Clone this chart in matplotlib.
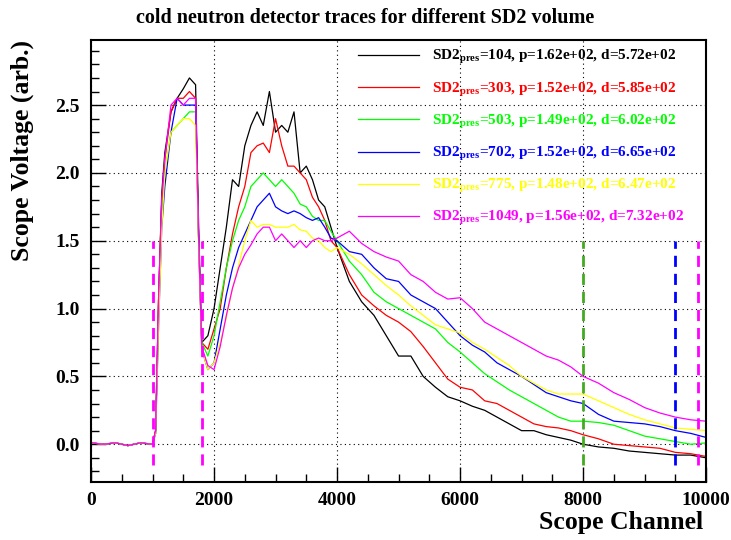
import numpy as np
import matplotlib
matplotlib.use('Agg')
import matplotlib.pyplot as plt
from matplotlib.ticker import MultipleLocator

plt.rcParams['font.family'] = ['Liberation Serif', 'DejaVu Serif']
plt.rcParams['font.weight'] = 'bold'
plt.rcParams['mathtext.fontset'] = 'custom'
plt.rcParams['mathtext.rm'] = 'Liberation Serif:bold'
plt.rcParams['mathtext.it'] = 'Liberation Serif:bold'
plt.rcParams['mathtext.bf'] = 'Liberation Serif:bold'

# channel grid the values were read at
channel = [0, 200, 400, 600, 800, 1000, 1050, 1100, 1150, 1200, 1300, 1400, 1500, 1600,
           1700, 1750, 1800, 1900, 2000, 2100, 2200, 2300, 2400, 2500, 2600, 2700, 2800,
           2900, 3000, 3100, 3200, 3300, 3400, 3500, 3600, 3700, 3800, 3900, 4000, 4200,
           4400, 4600, 4800, 5000, 5200, 5400, 5600, 5800, 6000, 6200, 6400, 6600, 6800,
           7000, 7200, 7400, 7600, 7800, 8000, 8250, 8500, 8750, 9000, 9250, 9500, 9750,
           10000]

base = [0.01, 0.0, 0.01, -0.01, 0.01, 0.0]

v_104 = base + [0.1, 1.1, 1.85, 2.15, 2.45, 2.55, 2.62, 2.7, 2.65, 1.6, 0.75, 0.8, 1.0,
                1.3, 1.6, 1.95, 1.9, 2.2, 2.35, 2.45, 2.35, 2.6, 2.3, 2.35, 2.3, 2.45, 2.0,
                2.05, 1.95, 1.8, 1.75, 1.6, 1.45, 1.2, 1.05, 0.95, 0.8, 0.65, 0.65, 0.5,
                0.42, 0.35, 0.32, 0.28, 0.25, 0.2, 0.15, 0.1, 0.1, 0.07, 0.05, 0.03, 0.0,
                -0.02, -0.03, -0.05, -0.06, -0.07, -0.08, -0.08, -0.1]
v_303 = base + [0.1, 1.1, 1.8, 2.1, 2.45, 2.55, 2.55, 2.6, 2.55, 1.5, 0.75, 0.7, 0.85,
                1.0, 1.3, 1.55, 1.75, 1.9, 2.15, 2.2, 2.22, 2.15, 2.4, 2.2, 2.05, 2.05, 2.0,
                1.95, 1.82, 1.75, 1.65, 1.5, 1.45, 1.25, 1.1, 1.02, 0.95, 0.9, 0.83, 0.72,
                0.6, 0.48, 0.42, 0.4, 0.32, 0.3, 0.25, 0.2, 0.15, 0.13, 0.12, 0.1, 0.07,
                0.04, 0.0, -0.01, -0.02, -0.03, -0.06, -0.07, -0.09]
v_503 = base + [0.08, 1.0, 1.7, 2.0, 2.3, 2.35, 2.4, 2.45, 2.45, 1.5, 0.75, 0.65, 0.8,
                1.05, 1.3, 1.5, 1.65, 1.75, 1.9, 1.95, 2.0, 1.95, 1.9, 1.95, 1.9, 1.85, 1.77,
                1.75, 1.68, 1.65, 1.65, 1.57, 1.5, 1.35, 1.25, 1.12, 1.05, 1.0, 0.95, 0.9,
                0.85, 0.75, 0.68, 0.6, 0.52, 0.46, 0.4, 0.35, 0.3, 0.25, 0.2, 0.17, 0.17,
                0.16, 0.14, 0.1, 0.06, 0.04, 0.02, 0.0, 0.01]
v_702 = base + [0.08, 0.9, 1.6, 1.9, 2.3, 2.55, 2.5, 2.5, 2.5, 1.5, 0.7, 0.55, 0.6,
                0.85, 1.1, 1.3, 1.45, 1.55, 1.65, 1.75, 1.8, 1.85, 1.75, 1.72, 1.7, 1.72, 1.7,
                1.67, 1.65, 1.67, 1.6, 1.52, 1.5, 1.42, 1.4, 1.3, 1.22, 1.2, 1.1, 1.05,
                1.0, 0.9, 0.8, 0.73, 0.68, 0.6, 0.55, 0.5, 0.44, 0.38, 0.35, 0.32, 0.3,
                0.22, 0.17, 0.16, 0.15, 0.13, 0.1, 0.08, 0.05]
v_775 = base + [0.08, 0.9, 1.6, 2.0, 2.3, 2.35, 2.4, 2.4, 2.35, 1.45, 0.7, 0.55, 0.6,
                0.75, 0.93, 1.15, 1.32, 1.5, 1.65, 1.6, 1.62, 1.62, 1.6, 1.6, 1.6, 1.62, 1.58,
                1.57, 1.52, 1.5, 1.45, 1.42, 1.45, 1.4, 1.33, 1.25, 1.17, 1.1, 1.02, 0.95,
                0.88, 0.85, 0.82, 0.75, 0.7, 0.64, 0.58, 0.5, 0.45, 0.4, 0.37, 0.37, 0.37,
                0.32, 0.27, 0.22, 0.18, 0.15, 0.12, 0.11, 0.1]
v_1049 = base + [0.1, 1.1, 1.8, 2.1, 2.5, 2.55, 2.5, 2.55, 2.55, 1.5, 0.72, 0.58, 0.55,
                 0.72, 0.95, 1.15, 1.3, 1.4, 1.47, 1.55, 1.6, 1.6, 1.5, 1.55, 1.5, 1.45, 1.5,
                 1.45, 1.5, 1.52, 1.5, 1.5, 1.52, 1.57, 1.48, 1.42, 1.38, 1.35, 1.25, 1.2,
                 1.12, 1.07, 1.08, 1.0, 0.9, 0.85, 0.8, 0.75, 0.7, 0.65, 0.62, 0.57, 0.5,
                 0.45, 0.38, 0.33, 0.27, 0.23, 0.2, 0.18, 0.17]

series = [v_104, v_303, v_503, v_702, v_775, v_1049]
colors = ['black', 'red', '#00ff00', 'blue', 'yellow', 'magenta']
labels = [r'SD2$_{\mathrm{pres}}$=104, p=1.62e+02, d=5.72e+02',
          r'SD2$_{\mathrm{pres}}$=303, p=1.52e+02, d=5.85e+02',
          r'SD2$_{\mathrm{pres}}$=503, p=1.49e+02, d=6.02e+02',
          r'SD2$_{\mathrm{pres}}$=702, p=1.52e+02, d=6.65e+02',
          r'SD2$_{\mathrm{pres}}$=775, p=1.48e+02, d=6.47e+02',
          r'SD2$_{\mathrm{pres}}$=1049, p=1.56e+02, d=7.32e+02']

# integration window markers
marker_x = [1000, 1800, 8000, 9500, 9870]
marker_col = ['magenta', 'magenta', '#44aa22', 'blue', 'magenta']
marker_lo, marker_hi = -0.15, 1.5

fig = plt.figure(figsize=(7.31, 5.40), dpi=100)
ax = fig.add_axes([0.1245, 0.107, 0.8415, 0.819])

for v, c, lab in zip(series, colors, labels):
    ax.plot(channel, v, color=c, lw=0.9, label=lab)

for mx, mc in zip(marker_x, marker_col):
    ax.plot([mx, mx], [marker_lo, marker_hi], color=mc, lw=2, ls=(0, (4, 2.5)))

ax.set_xlim(0, 10000)
ax.set_ylim(-0.28, 2.98)
ax.xaxis.set_major_locator(MultipleLocator(2000))
ax.xaxis.set_minor_locator(MultipleLocator(500))
ax.yaxis.set_major_locator(MultipleLocator(0.5))
ax.yaxis.set_minor_locator(MultipleLocator(0.1))
ax.yaxis.set_major_formatter(plt.FormatStrFormatter('%.1f'))
ax.tick_params(which='both', direction='in', top=False, right=False, labelsize=14, width=1)
ax.tick_params(which='major', length=11)
ax.tick_params(which='minor', length=6)
ax.tick_params(axis='x', pad=7)
ax.tick_params(axis='y', pad=8)
ax.grid(True, which='major', color='black', ls=(0, (1, 3)), lw=0.8)
for s in ax.spines.values():
    s.set_linewidth(1.5)

leg = ax.legend(loc='upper left', bbox_to_anchor=(0.412, 1.012), frameon=False, fontsize=11,
                handlelength=4.0, handletextpad=0.85, labelspacing=0.93, labelcolor='linecolor')

fig.text(0.5, 0.966, 'cold neutron detector traces for different SD2 volume',
         ha='center', va='center', fontsize=14.5, fontweight='bold')
fig.text(0.962, 0.033, 'Scope Channel', ha='right', va='center', fontsize=18.5, fontweight='bold')
fig.text(0.03, 0.926, 'Scope Voltage (arb.)', ha='center', va='top', rotation=90,
         fontsize=18.5, fontweight='bold')

fig.savefig('out.png', dpi=100)
